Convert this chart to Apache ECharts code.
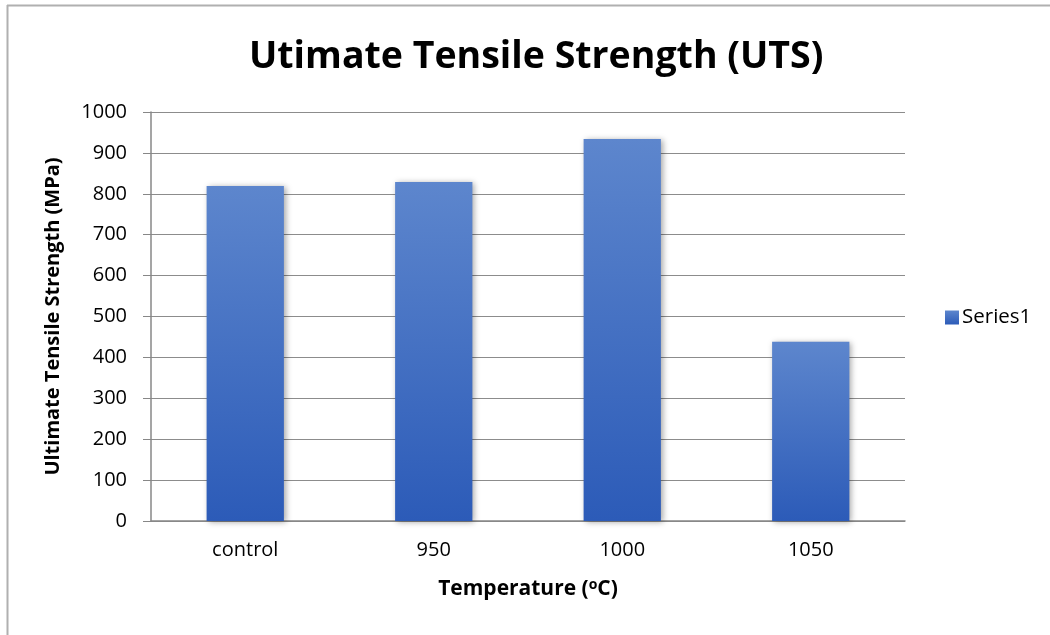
<!DOCTYPE html>
<html>
<head>
<meta charset="utf-8">
<script src="https://cdn.jsdelivr.net/npm/echarts@6/dist/echarts.min.js"></script>
<style>
  html, body { margin: 0; padding: 0; background: #fff; }
  #chart { width: 1050px; height: 635px; }
</style>
</head>
<body>
<div id="chart"></div>
<script>
// Tensile test results per heat-treatment temperature
var categories = ['control', '950', '1000', '1050'];
var utsValues = [819, 829, 934, 438];
var seriesName = 'Series1';

var FONT = 'Open Sans';

var chart = echarts.init(document.getElementById('chart'));

var barFill = new echarts.graphic.LinearGradient(0, 0, 0, 1, [
  { offset: 0, color: '#5d86cd' },
  { offset: 1, color: '#2c5bb8' }
]);

chart.setOption({
  backgroundColor: '#ffffff',
  animation: false,
  title: {
    text: 'Utimate Tensile Strength (UTS)',
    left: 244,
    top: 33,
    textStyle: {
      fontFamily: FONT,
      fontWeight: 'bold',
      fontSize: 37.5,
      color: '#000'
    }
  },
  legend: {
    orient: 'vertical',
    left: 940,
    top: 'middle',
    itemWidth: 14,
    itemHeight: 14,
    itemGap: 8,
    icon: 'rect',
    textStyle: { fontFamily: FONT, fontSize: 20.5, color: '#000', padding: [0, 0, 0, -2] },
    data: [seriesName]
  },
  grid: { left: 151, right: 145, top: 112, bottom: 114 },
  xAxis: {
    type: 'category',
    data: categories,
    axisLine: { lineStyle: { color: '#878787', width: 1.5 } },
    axisTick: { show: false },
    axisLabel: { fontFamily: FONT, fontSize: 20, color: '#000', margin: 19 },
    name: '{t|Temperature (}{s|o}{t|C)}',
    nameLocation: 'middle',
    nameGap: 57,
    nameTextStyle: {
      rich: {
        t: { fontFamily: FONT, fontSize: 21, fontWeight: 'bold', color: '#000' },
        s: { fontFamily: FONT, fontSize: 14, fontWeight: 'bold', color: '#000', verticalAlign: 'top', padding: [0, 0, 8, 0] }
      }
    }
  },
  yAxis: {
    type: 'value',
    min: 0,
    max: 1000,
    interval: 100,
    axisLine: { show: true, lineStyle: { color: '#878787', width: 1.5 } },
    axisTick: { show: true, length: 8, lineStyle: { color: '#878787' } },
    splitLine: { lineStyle: { color: '#8c8c8c', width: 1 } },
    axisLabel: {
      fontFamily: FONT, fontSize: 20, color: '#000', margin: 24,
      formatter: function (v) { return String(v); }
    },
    name: 'Ultimate Tensile Strength (MPa)',
    nameLocation: 'middle',
    nameGap: 88,
    nameTextStyle: { fontFamily: FONT, fontSize: 20, fontWeight: 'bold', color: '#000' }
  },
  series: [{
    name: seriesName,
    type: 'bar',
    data: utsValues,
    barWidth: '41%',
    itemStyle: {
      color: barFill,
      shadowBlur: 6,
      shadowColor: 'rgba(0,0,0,0.35)',
      shadowOffsetX: 2,
      shadowOffsetY: 1
    }
  }],
  graphic: [
    { type: 'line', shape: { x1: 7, y1: 5.5, x2: 1050, y2: 5.5 }, style: { stroke: '#b0b0b0', lineWidth: 2 } },
    { type: 'line', shape: { x1: 7.5, y1: 5, x2: 7.5, y2: 635 }, style: { stroke: '#b0b0b0', lineWidth: 2 } }
  ]
});
</script>
</body>
</html>
